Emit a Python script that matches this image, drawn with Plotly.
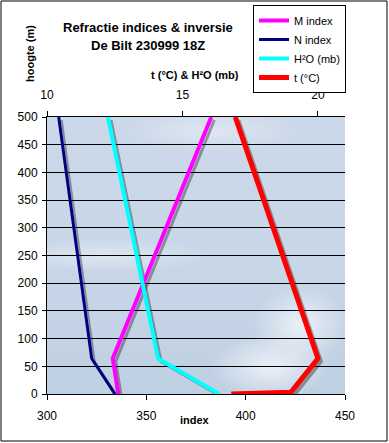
import plotly.graph_objects as go
import urllib.parse

# ---- data ----
heights = [0, 64, 500]
m_index = [335.9, 333.1, 382.7]
n_index = [334.2, 322.5, 305.9]
h2o_mb = [16.35, 14.1, 12.25]
t_heights = [0, 3, 64, 500]
t_c = [16.8, 19.0, 20.0, 16.95]

index_ticks = [300, 350, 400, 450]
top_ticks = [10, 15, 20]
height_ticks = list(range(0, 501, 50))

W, H = 389, 443
ML, MR, MT, MB = 47, 44, 117, 49
PW, PH = W - ML - MR, H - MT - MB

XR = [300, 450]
X2R = [10, 21]
YR = [0, 500]

# shadow offsets (pixels)
SDX, SDY = 3, 3


def shift_range(r, px, span_px):
    d = (r[1] - r[0]) * px / span_px
    return [r[0] + d, r[1] + d]


FONT = "Liberation Sans, Arial, sans-serif"
SHADOW = "rgba(30,30,30,0.4)"

fig = go.Figure()

series_bottom = [("M index", m_index, heights, "#ff00ff", 4),
                 ("N index", n_index, heights, "#000080", 3)]
series_top = [("H²O (mb)", h2o_mb, heights, "#00ffff", 4),
              ("t (°C)", t_c, t_heights, "#ff0000", 5)]

# shadows
for name, xs, ys, col, w in series_bottom:
    fig.add_trace(go.Scatter(x=xs, y=ys, xaxis="x", yaxis="y", mode="lines",
                             line=dict(color=SHADOW, width=w - 1), showlegend=False,
                             hoverinfo="skip", cliponaxis=False))
for name, xs, ys, col, w in series_top:
    fig.add_trace(go.Scatter(x=xs, y=ys, xaxis="x2", yaxis="y", mode="lines",
                             line=dict(color=SHADOW, width=w - 1), showlegend=False,
                             hoverinfo="skip", cliponaxis=False))
# main lines
for name, xs, ys, col, w in series_bottom:
    fig.add_trace(go.Scatter(x=xs, y=ys, xaxis="x3", yaxis="y2", mode="lines",
                             name=name, line=dict(color=col, width=w),
                             cliponaxis=False))
for name, xs, ys, col, w in series_top:
    fig.add_trace(go.Scatter(x=xs, y=ys, xaxis="x4", yaxis="y2", mode="lines",
                             name=name, line=dict(color=col, width=w),
                             cliponaxis=False))

# sky background as svg
svg = f'''<svg xmlns="http://www.w3.org/2000/svg" width="{PW}" height="{PH}" viewBox="0 0 {PW} {PH}">
<defs>
<linearGradient id="g" x1="0" y1="0" x2="0" y2="1">
<stop offset="0" stop-color="#cbd8e9"/><stop offset="0.5" stop-color="#c8d7e8"/><stop offset="1" stop-color="#bfd0e3"/>
</linearGradient>
<radialGradient id="c1"><stop offset="0" stop-color="#eef2f7" stop-opacity="0.95"/><stop offset="1" stop-color="#eef2f7" stop-opacity="0"/></radialGradient>
<radialGradient id="c2"><stop offset="0" stop-color="#e4ebf3" stop-opacity="0.8"/><stop offset="1" stop-color="#e4ebf3" stop-opacity="0"/></radialGradient>
</defs>
<rect width="{PW}" height="{PH}" fill="url(#g)"/>
<ellipse cx="{PW*0.85}" cy="{PH*0.75}" rx="{PW*0.16}" ry="{PH*0.14}" fill="url(#c1)"/>
<ellipse cx="{PW*0.75}" cy="{PH*0.9}" rx="{PW*0.2}" ry="{PH*0.12}" fill="url(#c1)"/>
<ellipse cx="{PW*0.2}" cy="{PH*0.5}" rx="{PW*0.35}" ry="{PH*0.06}" fill="url(#c2)"/>
<ellipse cx="{PW*0.55}" cy="{PH*0.05}" rx="{PW*0.3}" ry="{PH*0.08}" fill="url(#c2)"/>
</svg>'''
src = "data:image/svg+xml;charset=utf-8," + urllib.parse.quote(svg)

tickfont = dict(family=FONT, size=12, color="black")

fig.update_layout(
    width=W, height=H,
    margin=dict(l=ML, r=MR, t=MT, b=MB, autoexpand=False),
    paper_bgcolor="white", plot_bgcolor="#c8d7e8",
    font=dict(family=FONT, color="black"),
    images=[dict(source=src, xref="paper", yref="paper", x=0, y=1,
                 sizex=1, sizey=1, sizing="stretch", layer="below")],
    xaxis=dict(range=shift_range(XR, -SDX, PW), visible=False, automargin=False),
    xaxis2=dict(range=shift_range(X2R, -SDX, PW), overlaying="x", visible=False,
                automargin=False),
    yaxis=dict(range=shift_range(YR, SDY, PH), visible=False, automargin=False),
    xaxis3=dict(range=XR, overlaying="x", side="bottom", tickvals=index_ticks,
                ticks="outside", ticklen=5, tickcolor="black", showline=True,
                linecolor="black", linewidth=1, showgrid=False, zeroline=False,
                tickfont=tickfont, ticklabelstandoff=6, automargin=False),
    xaxis4=dict(range=X2R, overlaying="x", side="top", tickvals=top_ticks,
                ticks="outside", ticklen=5, tickcolor="black", showline=True,
                linecolor="black", linewidth=1, showgrid=False, zeroline=False,
                tickfont=tickfont, ticklabelstandoff=7, automargin=False),
    yaxis2=dict(range=YR, overlaying="y", side="left", tickvals=height_ticks,
                ticks="outside", ticklen=4, tickcolor="black", showline=True,
                linecolor="black", linewidth=1, showgrid=True, gridcolor="black",
                gridwidth=1, zeroline=False, tickfont=tickfont, ticklabelstandoff=2,
                automargin=False),
    showlegend=True,
    legend=dict(x=(253 - ML) / PW, y=(MT + PH - 5) / PH, xanchor="left", yanchor="top",
                bgcolor="white", bordercolor="black", borderwidth=1,
                font=dict(family=FONT, size=11, color="black"),
                tracegroupgap=0, itemwidth=30),
)


def px_to_paper_x(px):
    return (px - ML) / PW


def px_to_paper_y(py):
    return (MT + PH - py) / PH


annots = [
    ("<b>Refractie indices &amp; inversie</b>", 148, 27, 13, 0),
    ("<b>De Bilt 230999 18Z</b>", 148, 45, 13, 0),
    ("<b>t (°C) &amp; H²O (mb)</b>", 195, 75, 11, 0),
    ("<b>index</b>", 195, 420, 11, 0),
    ("<b>hoogte (m)</b>", 30, 54, 11, -90),
]
for text, ax, ay, size, ang in annots:
    fig.add_annotation(text=text, x=px_to_paper_x(ax), y=px_to_paper_y(ay),
                       xref="paper", yref="paper", showarrow=False,
                       xanchor="center", yanchor="middle", textangle=ang,
                       font=dict(family=FONT, size=size, color="black"))

# outer frame
fig.add_shape(type="rect", xref="paper", yref="paper",
              x0=px_to_paper_x(1), x1=px_to_paper_x(387),
              y0=px_to_paper_y(441), y1=px_to_paper_y(1),
              line=dict(color="black", width=1), fillcolor="rgba(0,0,0,0)")

fig.write_html("out.html", config={"displayModeBar": False},
               post_script="document.body.style.margin='0';document.body.style.padding='0';")
